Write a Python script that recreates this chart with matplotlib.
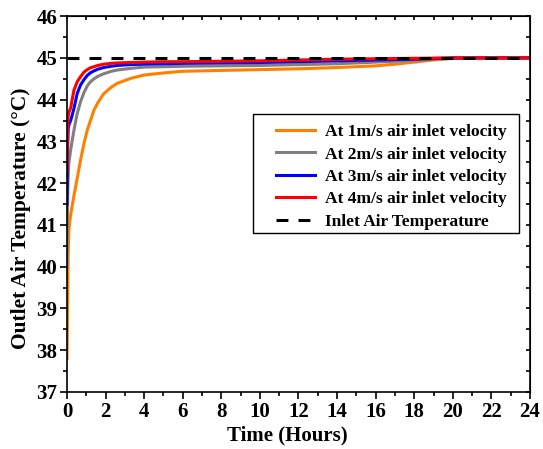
import matplotlib
matplotlib.use("Agg")
import matplotlib.pyplot as plt
from matplotlib.ticker import MultipleLocator, NullFormatter
from matplotlib.patches import Rectangle

plt.rcParams['font.family'] = ['Liberation Serif', 'DejaVu Serif']
plt.rcParams['font.weight'] = 'bold'

time_h = [0, 0.03, 0.06, 0.1, 0.19, 0.36, 0.53, 0.7, 0.88, 1.05, 1.2, 1.4, 1.6, 1.9, 2.3,
          2.6, 3.3, 4, 5, 6, 8, 10, 12, 14, 16, 17, 18, 19, 20, 22, 24]
v1 = [37.8, 39.0, 40.3, 40.9, 41.25, 41.7, 42.12, 42.55, 42.95, 43.27, 43.48, 43.75, 43.93,
      44.14, 44.30, 44.39, 44.51, 44.59, 44.64, 44.68, 44.70, 44.72, 44.74, 44.77, 44.81,
      44.85, 44.90, 44.95, 44.99, 45.0, 45.0]
v2 = [40.0, 41.6, 42.2, 42.5, 42.8, 43.27, 43.67, 43.95, 44.17, 44.33, 44.42, 44.50, 44.56,
      44.62, 44.68, 44.71, 44.75, 44.78, 44.79, 44.80, 44.81, 44.82, 44.84, 44.86, 44.90,
      44.92, 44.95, 44.97, 44.99, 45.0, 45.0]
v3 = [41.5, 42.8, 43.3, 43.4, 43.5, 43.79, 44.15, 44.35, 44.48, 44.58, 44.64, 44.69, 44.73,
      44.77, 44.80, 44.82, 44.84, 44.85, 44.86, 44.87, 44.88, 44.89, 44.91, 44.93, 44.95,
      44.96, 44.97, 44.985, 45.0, 45.0, 45.0]
v4 = [42.3, 43.2, 43.6, 43.7, 43.8, 44.23, 44.43, 44.55, 44.66, 44.72, 44.76, 44.79, 44.82,
      44.85, 44.87, 44.88, 44.89, 44.90, 44.91, 44.91, 44.92, 44.93, 44.95, 44.97, 44.98,
      44.985, 44.99, 44.995, 45.0, 45.0, 45.0]
inlet_temp = 45.0

labels = ["At 1m/s air inlet velocity", "At 2m/s air inlet velocity",
          "At 3m/s air inlet velocity", "At 4m/s air inlet velocity",
          "Inlet Air Temperature"]
colors = ["#FF8000", "#808080", "#0000FF", "#FF0000"]

fig = plt.figure(figsize=(5.43, 4.49), dpi=100)
ax = fig.add_axes([0.1234, 0.127, 0.8526, 0.837])

for vals, c, lab in zip([v1, v2, v3, v4], colors, labels[:4]):
    ax.plot(time_h, vals, color=c, lw=2.2, label=lab, solid_joinstyle='round')
ax.plot([0, 24], [inlet_temp, inlet_temp], color='black', lw=2.2, ls=(0, (3.9, 3.3)),
        label=labels[4])

ax.set_xlim(0, 24)
ax.set_ylim(37, 46)
ax.xaxis.set_major_locator(MultipleLocator(2))
ax.xaxis.set_minor_locator(MultipleLocator(1))
ax.yaxis.set_major_locator(MultipleLocator(1))
ax.yaxis.set_minor_locator(MultipleLocator(0.5))
ax.tick_params(which='both', direction='out', labelsize=15, pad=2)
ax.tick_params(which='major', length=5, width=1.2)
ax.tick_params(which='minor', length=3, width=1.2)
for lab in ax.get_xticklabels() + ax.get_yticklabels():
    lab.set_fontweight('bold')
for s in ax.spines.values():
    s.set_linewidth(1.2)

# mirrored inward ticks on top and right
top = ax.secondary_xaxis('top')
top.xaxis.set_major_locator(MultipleLocator(1))
top.xaxis.set_major_formatter(NullFormatter())
top.tick_params(direction='in', length=3, width=1.2)
right = ax.secondary_yaxis('right')
right.yaxis.set_major_locator(MultipleLocator(0.5))
right.yaxis.set_major_formatter(NullFormatter())
right.tick_params(direction='in', length=3, width=1.2)

ax.set_xlabel("Time (Hours)", fontsize=15, fontweight='bold', labelpad=3)
ax.xaxis.label.set_x(0.476)
ax.set_ylabel("Outlet Air Temperature (°C)", fontsize=15.5, fontweight='bold', labelpad=4)
ax.yaxis.label.set_y(0.463)

frame = Rectangle((253 / 543, 1 - 233 / 449), (519 - 253) / 543, (233 - 114) / 449,
                  transform=fig.transFigure, facecolor='white', edgecolor='black',
                  lw=1.0, zorder=4, clip_on=False)
ax.add_patch(frame)
leg = ax.legend(loc='upper left', bbox_to_anchor=(276 / 543, 1 - 124 / 449),
                bbox_transform=fig.transFigure, fontsize=12.5, frameon=False,
                handlelength=2.25, handletextpad=0.6, borderpad=0, borderaxespad=0,
                labelspacing=0.36)
leg.set_zorder(6)
for t in leg.get_texts():
    t.set_fontweight('bold')

fig.savefig("out.png", dpi=100)
